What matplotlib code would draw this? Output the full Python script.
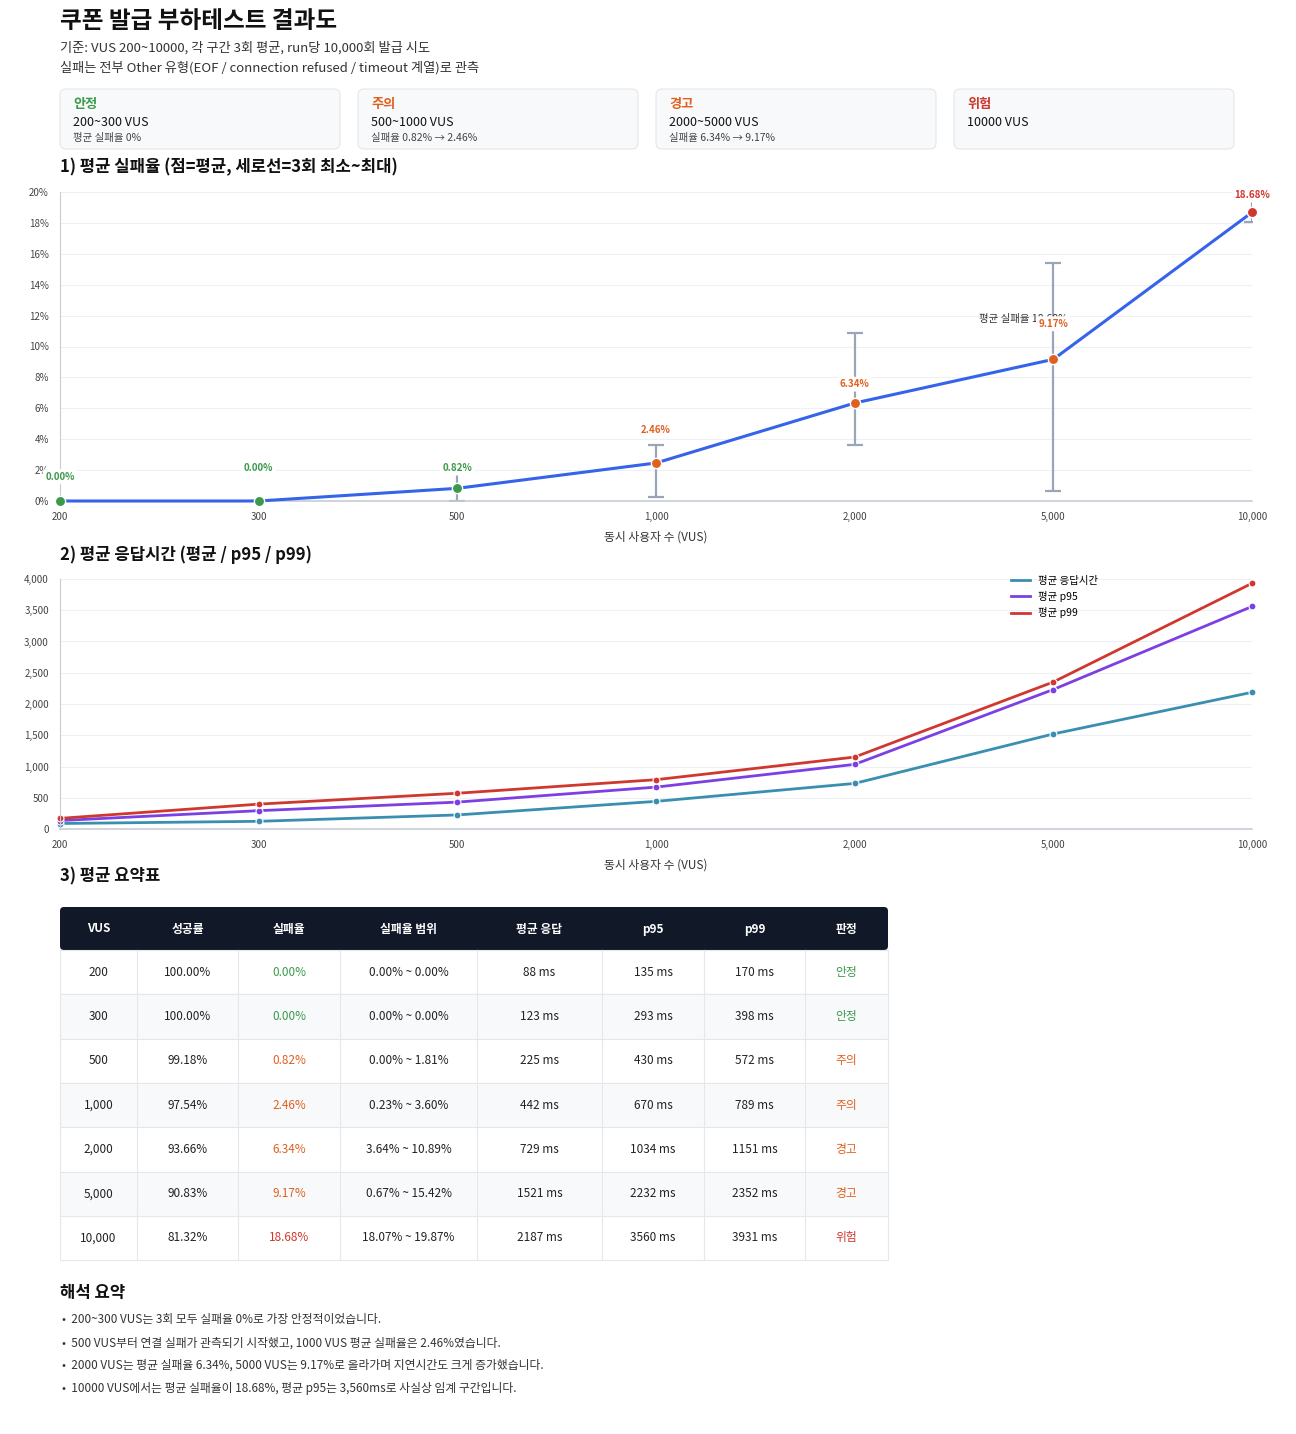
import matplotlib.pyplot as plt
from matplotlib.patches import FancyBboxPatch, Rectangle
from matplotlib.lines import Line2D
import numpy as np

plt.rcParams['font.family'] = ['Noto Sans CJK KR', 'DejaVu Sans']

W, H = 1296, 1434

vus = [200, 300, 500, 1000, 2000, 5000, 10000]
vus_labels = ["200", "300", "500", "1,000", "2,000", "5,000", "10,000"]
fail_avg = [0.00, 0.00, 0.82, 2.46, 6.34, 9.17, 18.68]
fail_min = [0.00, 0.00, 0.00, 0.23, 3.64, 0.67, 18.07]
fail_max = [0.00, 0.00, 1.81, 3.60, 10.89, 15.42, 19.87]
success = [100.00, 100.00, 99.18, 97.54, 93.66, 90.83, 81.32]
resp_avg = [88, 123, 225, 442, 729, 1521, 2187]
resp_p95 = [135, 293, 430, 670, 1034, 2232, 3560]
resp_p99 = [170, 398, 572, 789, 1151, 2352, 3931]
status = ["안정", "안정", "주의", "주의", "경고", "경고", "위험"]
point_level = ["안정", "안정", "안정", "주의", "주의", "주의", "위험"]
label_offset = [14, 20, 11, 20, 10, 22, 9]  # points above the marker

GREEN, ORANGE, RED = "#3a9a4a", "#e0601f", "#d0382f"
status_color = {"안정": GREEN, "주의": ORANGE, "경고": ORANGE, "위험": RED}

fig = plt.figure(figsize=(W / 100, H / 100), dpi=100)
fig.patch.set_facecolor("white")
bg = fig.add_axes([0, 0, 1, 1])
bg.set_xlim(0, W)
bg.set_ylim(H, 0)
bg.axis("off")


def rect(x0, y0, x1, y1):
    return [x0 / W, 1 - y1 / H, (x1 - x0) / W, (y1 - y0) / H]


# header
bg.text(60, 21, "쿠폰 발급 부하테스트 결과도", fontsize=17, fontweight="bold", color="#111", va="center")
bg.text(60, 48, "기준: VUS 200~10000, 각 구간 3회 평균, run당 10,000회 발급 시도", fontsize=9.5, color="#333", va="center")
bg.text(60, 68, "실패는 전부 Other 유형(EOF / connection refused / timeout 계열)로 관측", fontsize=9.5, color="#333", va="center")

cards = [("안정", GREEN, "200~300 VUS", "평균 실패율 0%"),
         ("주의", ORANGE, "500~1000 VUS", "실패율 0.82% → 2.46%"),
         ("경고", ORANGE, "2000~5000 VUS", "실패율 6.34% → 9.17%"),
         ("위험", RED, "10000 VUS", "")]
for i, (t, c, l1, l2) in enumerate(cards):
    x0 = 60 + i * 298
    bg.add_patch(FancyBboxPatch((x0, 89), 280, 60, boxstyle="round,pad=0,rounding_size=6",
                                facecolor="#f8f9fb", edgecolor="#e5e7eb", lw=0.8))
    bg.text(x0 + 13, 104, t, fontsize=9.5, fontweight="bold", color=c, va="center")
    bg.text(x0 + 13, 123, l1, fontsize=9, color="#111", va="center")
    if l2:
        bg.text(x0 + 13, 138, l2, fontsize=7.5, color="#444", va="center")

bg.text(60, 167, "1) 평균 실패율 (점=평균, 세로선=3회 최소~최대)", fontsize=12, fontweight="bold", color="#111", va="center")
bg.text(60, 555, "2) 평균 응답시간 (평균 / p95 / p99)", fontsize=12, fontweight="bold", color="#111", va="center")
bg.text(60, 876, "3) 평균 요약표", fontsize=12, fontweight="bold", color="#111", va="center")


def style_axis(ax):
    for s in ["top", "right"]:
        ax.spines[s].set_visible(False)
    ax.spines["left"].set_color("#c7ccd4")
    ax.spines["bottom"].set_color("#c7ccd4")
    ax.spines["bottom"].set_linewidth(1.2)
    ax.grid(axis="y", color="#eef0f3", lw=0.8)
    ax.set_axisbelow(True)
    ax.tick_params(labelsize=7, colors="#444", length=0, pad=8)
    ax.set_xticks(range(len(vus)))
    ax.set_xticklabels(vus_labels)
    ax.set_xlim(0, len(vus) - 1)
    ax.set_xlabel("동시 사용자 수 (VUS)", fontsize=8.5, color="#333", labelpad=6)


# chart 1
idx = np.arange(len(vus))
ax1 = fig.add_axes(rect(60, 192, 1252, 501))
style_axis(ax1)
ax1.set_ylim(0, 20)
ax1.set_yticks(range(0, 21, 2))
ax1.set_yticklabels([f"{v}%" for v in range(0, 21, 2)])
avg = np.array(fail_avg)
err = [avg - np.array(fail_min), np.array(fail_max) - avg]
ax1.errorbar(idx, avg, yerr=err, fmt="none", ecolor="#9aa5b8", elinewidth=1.6, capsize=6, capthick=1.6, zorder=2)
ax1.plot(idx, avg, color="#3563e9", lw=2.2, zorder=3, clip_on=False)
for i, v in enumerate(fail_avg):
    c = status_color[point_level[i]]
    ax1.scatter(i, v, s=55, color=c, edgecolor="white", lw=1, zorder=4, clip_on=False)
    ax1.annotate(f"{v:.2f}%", (i, v), xytext=(0, label_offset[i]), textcoords="offset points",
                 fontsize=7, fontweight="bold", color=c, ha="center", va="bottom", zorder=6,
                 annotation_clip=False,
                 bbox=dict(boxstyle="round,pad=0.25", facecolor="white", edgecolor="none"))
ax1.text(4.85, 11.8, "평균 실패율 18.68%", fontsize=7.5, color="#333", ha="center", va="center")

# chart 2
ax2 = fig.add_axes(rect(60, 579, 1252, 829))
style_axis(ax2)
ax2.set_ylim(0, 4000)
ax2.set_yticks(range(0, 4001, 500))
ax2.set_yticklabels([f"{v:,}" for v in range(0, 4001, 500)])
series = [(resp_avg, "#3a8fb0", "평균 응답시간"), (resp_p95, "#7b3fe4", "평균 p95"),
          (resp_p99, "#d0382f", "평균 p99")]
handles = []
for data, c, lab in series:
    ax2.plot(idx, data, color=c, lw=2, marker="o", ms=5, mec="white", mew=0.8, clip_on=False)
    handles.append(Line2D([], [], color=c, lw=2, label=lab))
ax2.legend(handles=handles, loc="upper left", bbox_to_anchor=(0.79, 1.05), frameon=False,
           fontsize=7.5, handlelength=1.8)

# table
cols = [60, 137, 238, 340, 477, 602, 704, 805, 888]
headers = ["VUS", "성공률", "실패율", "실패율 범위", "평균 응답", "p95", "p99", "판정"]
bg.add_patch(FancyBboxPatch((60, 907), 828, 43, boxstyle="round,pad=0,rounding_size=4",
                            facecolor="#111827", edgecolor="none"))
for j, h in enumerate(headers):
    bg.text((cols[j] + cols[j + 1]) / 2, 929, h, fontsize=8.5, fontweight="bold", color="white",
            ha="center", va="center")
row_h = 44.3
for i in range(len(vus)):
    y0 = 950 + i * row_h
    bg.add_patch(Rectangle((60, y0), 828, row_h, facecolor="#f8f9fb" if i % 2 else "white",
                           edgecolor="#e5e7eb", lw=0.8))
    c = status_color[status[i]]
    cells = [(vus_labels[i], "#222"), (f"{success[i]:.2f}%", "#222"), (f"{fail_avg[i]:.2f}%", c),
             (f"{fail_min[i]:.2f}% ~ {fail_max[i]:.2f}%", "#222"), (f"{resp_avg[i]} ms", "#222"),
             (f"{resp_p95[i]} ms", "#222"), (f"{resp_p99[i]} ms", "#222"), (status[i], c)]
    for j, (t, tc) in enumerate(cells):
        bg.text((cols[j] + cols[j + 1]) / 2, y0 + row_h / 2, t, fontsize=8.5, color=tc,
                ha="center", va="center")
for x in cols[1:-1]:
    bg.plot([x, x], [950, 950 + row_h * len(vus)], color="#e5e7eb", lw=0.8)

bg.text(60, 1293, "해석 요약", fontsize=12, fontweight="bold", color="#111", va="center")
notes = ["200~300 VUS는 3회 모두 실패율 0%로 가장 안정적이었습니다.",
         "500 VUS부터 연결 실패가 관측되기 시작했고, 1000 VUS 평균 실패율은 2.46%였습니다.",
         "2000 VUS는 평균 실패율 6.34%, 5000 VUS는 9.17%로 올라가며 지연시간도 크게 증가했습니다.",
         "10000 VUS에서는 평균 실패율이 18.68%, 평균 p95는 3,560ms로 사실상 임계 구간입니다."]
for k, n in enumerate(notes):
    bg.text(62, 1320 + k * 22.7, "•  " + n, fontsize=8.5, color="#333", va="center")

fig.savefig("out.png", dpi=100, facecolor="white")
